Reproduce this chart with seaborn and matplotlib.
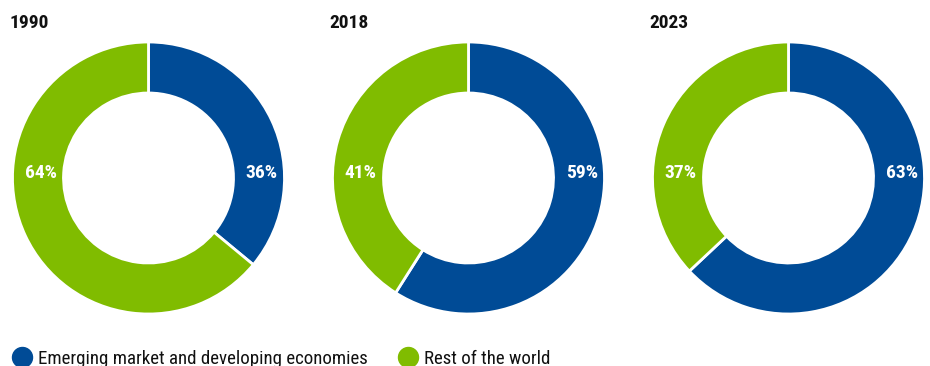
import matplotlib
matplotlib.use("Agg")
import matplotlib.pyplot as plt
from matplotlib import font_manager
from matplotlib.lines import Line2D
import seaborn as sns

years = ["1990", "2018", "2023"]
emerging_share = [36, 59, 63]
rest_share = [64, 41, 37]
series_names = ["Emerging market and developing economies", "Rest of the world"]

sns.set_theme(style="white")
installed = {f.name for f in font_manager.fontManager.ttflist}
preferred = ["Roboto Condensed", "Barlow Semi Condensed", "Barlow Condensed", "Archivo Narrow"]
family = [n for n in preferred if n in installed][:1] + ["DejaVu Sans"]
plt.rcParams["font.family"] = family

palette = sns.color_palette(["#004B96", "#80BC00"])

W, H = 930, 366
fig = plt.figure(figsize=(W / 100, H / 100), dpi=100)

# donut geometry in pixels
centers_x = [148.5, 468.5, 788.5]
cy, r_out = 178, 136
ring = 51 / 136

for year, em, rest, cx in zip(years, emerging_share, rest_share, centers_x):
    ax = fig.add_axes([(cx - r_out) / W, (H - cy - r_out) / H, 2 * r_out / W, 2 * r_out / H])
    ax.pie([em, rest], colors=palette, startangle=90, counterclock=False, radius=1,
           wedgeprops=dict(width=ring, edgecolor="white", linewidth=2))
    ax.set_xlim(-1, 1)
    ax.set_ylim(-1, 1)
    ax.set_aspect("equal")
    ax.axis("off")
    mid = 1 - ring / 2
    ax.text(mid + 0.02, 0.04, f"{em}%", color="white", fontsize=14, fontweight="bold",
            ha="center", va="center")
    ax.text(-mid + 0.02, 0.04, f"{rest}%", color="white", fontsize=14, fontweight="bold",
            ha="center", va="center")
    fig.text((cx - r_out - 3) / W, 1 - 23 / H, year, fontsize=14, fontweight="bold",
             ha="left", va="center", color="#111111")

handles = [Line2D([0], [0], marker="o", linestyle="", markersize=14.4,
                  markerfacecolor=c, markeredgecolor=c) for c in palette]
fig.legend(handles, series_names, loc="center left", bbox_to_anchor=(10.4 / W, 1 - 358.5 / H),
           ncol=2, frameon=False, fontsize=13.6, handletextpad=0.26, columnspacing=1.52,
           borderaxespad=0, borderpad=0, handlelength=1.2, labelcolor="#111111")

fig.savefig("out.png", dpi=100, facecolor="white")
